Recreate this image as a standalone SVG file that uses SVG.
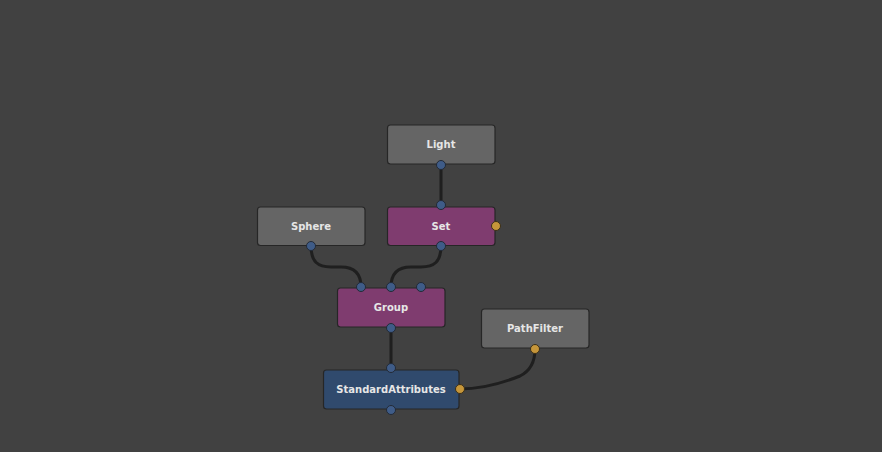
<svg xmlns="http://www.w3.org/2000/svg" width="882" height="452" viewBox="0 0 882 452">
<style>
.node rect{stroke:#262626;stroke-width:1.2}
.gray{fill:#656565}
.purple{fill:#7f3c6f}
.blue{fill:#304a6d}
.lbl{font-family:"DejaVu Sans",sans-serif;font-size:10px;font-weight:bold;fill:#e6e6e6;text-anchor:middle}
.p{fill:#3f5c88;stroke:#232a36;stroke-width:1}
.o{fill:#c6963a;stroke:#3a2e18;stroke-width:1}
.conn path{fill:none;stroke:#1f1f1f;stroke-width:3}
</style>
<rect width="882" height="452" fill="#414141"/>
<g id="connectors" class="conn">
<path d="M441,165 L441,205"/>
<path d="M311,246 C311,262 318,267 331,267 L341,267 C354,267 361,273 361,287"/>
<path d="M441,246 C441,262 434,267 421,267 L411,267 C398,267 391,273 391,287"/>
<path d="M391,328 L391,368"/>
<path d="M460,389 C485,389 505,382 520,376 C530,371 535,362 535,349"/>
</g>
<g id="Light" class="node"><rect class="gray" x="387.5" y="125" width="107.5" height="39" rx="3"/><text class="lbl" x="441" y="148">Light</text><circle class="p" cx="441" cy="165" r="4.5"/></g>
<g id="Set" class="node"><rect class="purple" x="387.5" y="207" width="107.5" height="38.5" rx="3"/><text class="lbl" x="441" y="230">Set</text><circle class="p" cx="441" cy="205" r="4.5"/><circle class="p" cx="441" cy="246" r="4.5"/><circle class="o" cx="496" cy="226" r="4.5"/></g>
<g id="Sphere" class="node"><rect class="gray" x="257.5" y="207" width="107.5" height="38.5" rx="3"/><text class="lbl" x="311" y="230">Sphere</text><circle class="p" cx="311" cy="246" r="4.5"/></g>
<g id="Group" class="node"><rect class="purple" x="337.5" y="288" width="107.5" height="39" rx="3"/><text class="lbl" x="391" y="311">Group</text><circle class="p" cx="361" cy="287" r="4.5"/><circle class="p" cx="391" cy="287" r="4.5"/><circle class="p" cx="421" cy="287" r="4.5"/><circle class="p" cx="391" cy="328" r="4.5"/></g>
<g id="PathFilter" class="node"><rect class="gray" x="481.5" y="309" width="107.5" height="39" rx="3"/><text class="lbl" x="535" y="332">PathFilter</text><circle class="o" cx="535" cy="349" r="4.5"/></g>
<g id="StandardAttributes" class="node"><rect class="blue" x="323.5" y="370" width="135.5" height="39" rx="3"/><text class="lbl" x="391" y="393">StandardAttributes</text><circle class="p" cx="391" cy="368" r="4.5"/><circle class="p" cx="391" cy="410" r="4.5"/><circle class="o" cx="460" cy="389" r="4.5"/></g>
</svg>
